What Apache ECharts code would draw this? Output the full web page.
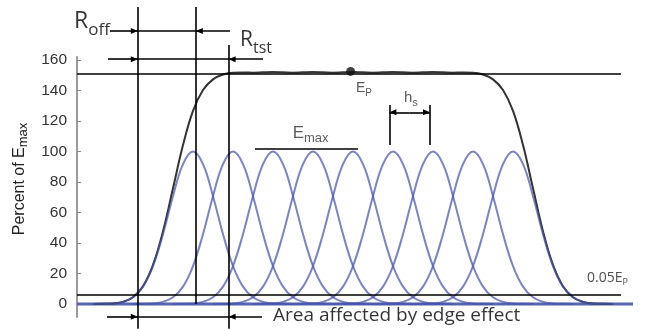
<!DOCTYPE html>
<html><head><meta charset="utf-8">
<script src="https://cdn.jsdelivr.net/npm/echarts@6/dist/echarts.min.js"></script>
<style>html,body{margin:0;padding:0;background:#fff}#c{width:646px;height:329px}</style>
</head><body><div id="c"></div>
<script>
// ---- data (x in units of the peak spacing h_s, y in percent of Emax)
const profileOffsets = [-2.5,-2.25,-2,-1.75,-1.5,-1.25,-1,-0.75,-0.5,-0.25,0,0.25,0.5,0.75,1,1.25,1.5,1.75,2,2.25,2.5];
const profileValues  = [0,0.1,0.4,1.4,4.4,11.4,24.9,45.8,70.7,91.7,100,91.7,70.7,45.8,24.9,11.4,4.4,1.4,0.4,0.1,0];
const peakPositions  = [1,2,3,4,5,6,7,8,9];
const sumX = [-1.5,-1.25,-1,-0.75,-0.5,-0.25,0,0.25,0.5,0.75,1,1.25,1.5,1.75,2,2.25,2.5,2.75,3,3.25,3.5,3.75,4,4.25,4.5,4.75,5,5.25,5.5,5.75,6,6.25,6.5,6.75,7,7.25,7.5,7.75,8,8.25,8.5,8.75,9,9.25,9.5,9.75,10,10.25,10.5,10.75,11,11.25,11.5];
const sumValues = [0,0.1,0.4,1.4,4.4,11.6,25.6,47.7,75.9,104.2,126.6,140.3,147.3,150.5,151.7,151.8,151.7,151.9,152.1,151.9,151.7,151.9,152.1,151.9,151.7,151.9,152.1,151.9,151.7,151.9,152.1,151.9,151.7,151.9,152.1,151.9,151.7,151.8,151.7,150.5,147.3,140.3,126.6,104.2,75.9,47.7,25.6,11.6,4.4,1.4,0.4,0.1,0];
const baselineX = [-1.9, 12];
const yTickValues = [0,20,40,60,80,100,120,140,160];
const epPoint = [4.94, 152.5];

// annotation geometry (same data units)
const vA = -0.38, vB = 1.07, vC = 1.89;
const plateauLevel = 151.2, edgeLevel = 5.9, emaxLevel = 102.1;
const rOffRow = 179, rTstRow = 160.5, areaRow = -8.3;
const hsLeft = 5.91, hsRight = 6.925, hsTop = 130.5, hsBottom = 104.3, hsRow = 125.7;
const figTop = 194.8, figBottom = -16.3;

const plainLines = [
  [[vA,figTop],[vA,figBottom]],
  [[vB,figTop],[vB,0]],
  [[vC,169.8],[vC,figBottom]],
  [[-1.9,plateauLevel],[11.7,plateauLevel]],
  [[-1.9,edgeLevel],[11.7,edgeLevel]],
  [[2.55,emaxLevel],[5.125,emaxLevel]],
  [[hsLeft,hsTop],[hsLeft,hsBottom]],
  [[hsRight,hsTop],[hsRight,hsBottom]],
  [[vA,rOffRow],[vB,rOffRow]],
  [[vA,rTstRow],[vC,rTstRow]],
  [[vA,areaRow],[vC,areaRow]]
];
const arrowLines = [
  [[-1.075,rOffRow],[vA,rOffRow]],
  [[1.925,rOffRow],[vB,rOffRow]],
  [[-1.125,rTstRow],[vA,rTstRow]],
  [[2.75,rTstRow],[vC,rTstRow]],
  [[-1.15,areaRow],[vA,areaRow]],
  [[2.725,areaRow],[vC,areaRow]],
  [[6.42,hsRow],[hsLeft,hsRow]],
  [[6.42,hsRow],[hsRight,hsRow]]
];

const calibri = "'Open Sans', 'Liberation Sans', sans-serif";
const arial = "'Liberation Sans', Arial, sans-serif";
const texts = [
  {pos:[-1.975,185.2], fmt:'{m|R}{s|off}', rich:{m:{fontSize:23,lineHeight:34,fontFamily:calibri,color:'#000'}, s:{fontSize:17,lineHeight:17,verticalAlign:'bottom',fontFamily:calibri,color:'#000'}}},
  {pos:[2.175,172.8], fmt:'{m|R}{s|tst}', rich:{m:{fontSize:21,lineHeight:31,fontFamily:calibri,color:'#000'}, s:{fontSize:16,lineHeight:16,verticalAlign:'bottom',fontFamily:calibri,color:'#000'}}},
  {pos:[5.075,141.6], fmt:'{m|E}{s|P}', rich:{m:{fontSize:14,lineHeight:20,fontFamily:arial,color:'#333'}, s:{fontSize:10,lineHeight:10,verticalAlign:'bottom',fontFamily:arial,color:'#333'}}},
  {pos:[6.275,135.4], fmt:'{m|h}{s|s}', rich:{m:{fontSize:15,lineHeight:22,fontFamily:arial,color:'#333'}, s:{fontSize:11,lineHeight:11,verticalAlign:'bottom',fontFamily:arial,color:'#333'}}},
  {pos:[3.4925,112.1], fmt:'{m|E}{s|max}', rich:{m:{fontSize:17,lineHeight:24,fontFamily:arial,color:'#333'}, s:{fontSize:13,lineHeight:13,verticalAlign:'bottom',fontFamily:arial,color:'#333'}}},
  {pos:[10.85,17.05], fmt:'{m|0.05E}{s|P}', rich:{m:{fontSize:14,lineHeight:18,fontFamily:calibri,color:'#222'}, s:{fontSize:9,lineHeight:9,verticalAlign:'bottom',fontFamily:calibri,color:'#222'}}},
  {pos:[3.0,-7.54], fmt:'{m|Area affected by edge effect}', rich:{m:{fontSize:19,lineHeight:24,fontFamily:calibri,color:'#000'}}}
];

// ---- chart
const chart = echarts.init(document.getElementById('c'), null, {renderer:'canvas'});
const X0 = 153, XU = 40, Y0 = 304, YU = 1.525, W = 646, H = 329;
const series = [];
series.push({type:'line', xAxisIndex:0, yAxisIndex:0, data: baselineX.map(x=>[x,0]), showSymbol:false, silent:true, z:2,
  lineStyle:{color:'#5565b0', width:3}});
series.push({type:'line', xAxisIndex:0, yAxisIndex:0, data: sumX.map((x,i)=>[x,sumValues[i]]), smooth:0.4, showSymbol:false, silent:true, z:3,
  lineStyle:{color:'#333', width:2}});
peakPositions.forEach(p=>{
  series.push({type:'line', xAxisIndex:0, yAxisIndex:0, data: profileOffsets.map((d,k)=>[p+d, profileValues[k]]), smooth:0.4, showSymbol:false, silent:true, z:4,
    lineStyle:{color:'rgba(70,85,170,0.72)', width:2}});
});
series.push({type:'scatter', xAxisIndex:0, yAxisIndex:0, data:[epPoint], symbolSize:9, itemStyle:{color:'#111'}, silent:true, z:6});
series.push({type:'line', xAxisIndex:1, yAxisIndex:1, data:[], silent:true, z:5,
  markLine:{silent:true, symbol:['none','none'], label:{show:false}, animation:false,
    lineStyle:{color:'#000', width:1.6, type:'solid'}, emphasis:{disabled:true},
    data: plainLines.map(l=>[{coord:l[0]},{coord:l[1]}])}});
series.push({type:'line', xAxisIndex:1, yAxisIndex:1, data:[], silent:true, z:5,
  markLine:{silent:true, symbol:['none','triangle'], label:{show:false}, animation:false,
    lineStyle:{color:'#000', width:1.6, type:'solid'}, itemStyle:{color:'#000'}, emphasis:{disabled:true},
    data: arrowLines.map(l=>[{coord:l[0], symbolSize:[6,7]},{coord:l[1], symbolSize:[6,7], symbolOffset:[0,3.5]}])}});
series.push({type:'scatter', xAxisIndex:1, yAxisIndex:1, symbolSize:0, silent:true, z:7,
  data: texts.map(t=>({value:t.pos, label:{show:true, position:'inside', align:'left', verticalAlign:'middle',
    formatter:()=>t.fmt, rich:t.rich}}))});

chart.setOption({
  animation:false,
  backgroundColor:'#fff',
  grid:[
    {left:77, right:W-633, top:Y0-162*YU, bottom:H-(Y0+8.5*YU)},
    {left:0, right:0, top:0, bottom:0}
  ],
  xAxis:[
    {type:'value', gridIndex:0, min:(77-X0)/XU, max:(633-X0)/XU, show:false},
    {type:'value', gridIndex:1, min:-X0/XU, max:(W-X0)/XU, show:false}
  ],
  yAxis:[
    {type:'value', gridIndex:0, min:-8.5, max:162,
      name:'Percent of E{s|max}', nameLocation:'middle', nameRotate:90, nameGap:38,
      nameTextStyle:{fontSize:16, fontFamily:arial, color:'#222', lineHeight:22, padding:[0,0,0,16],
        rich:{s:{fontSize:13, lineHeight:13, verticalAlign:'bottom', fontFamily:arial, color:'#222'}}},
      axisLine:{show:true, onZero:false, lineStyle:{color:'#9a9a9a', width:2}},
      axisTick:{show:true, inside:true, length:4, customValues:yTickValues, lineStyle:{color:'#888', width:1}},
      axisLabel:{customValues:yTickValues, margin:10, fontSize:15.5, fontFamily:arial, color:'#333'},
      splitLine:{show:false}},
    {type:'value', gridIndex:1, min:-(H-Y0)/YU, max:Y0/YU, show:false}
  ],
  series
});
</script></body></html>
